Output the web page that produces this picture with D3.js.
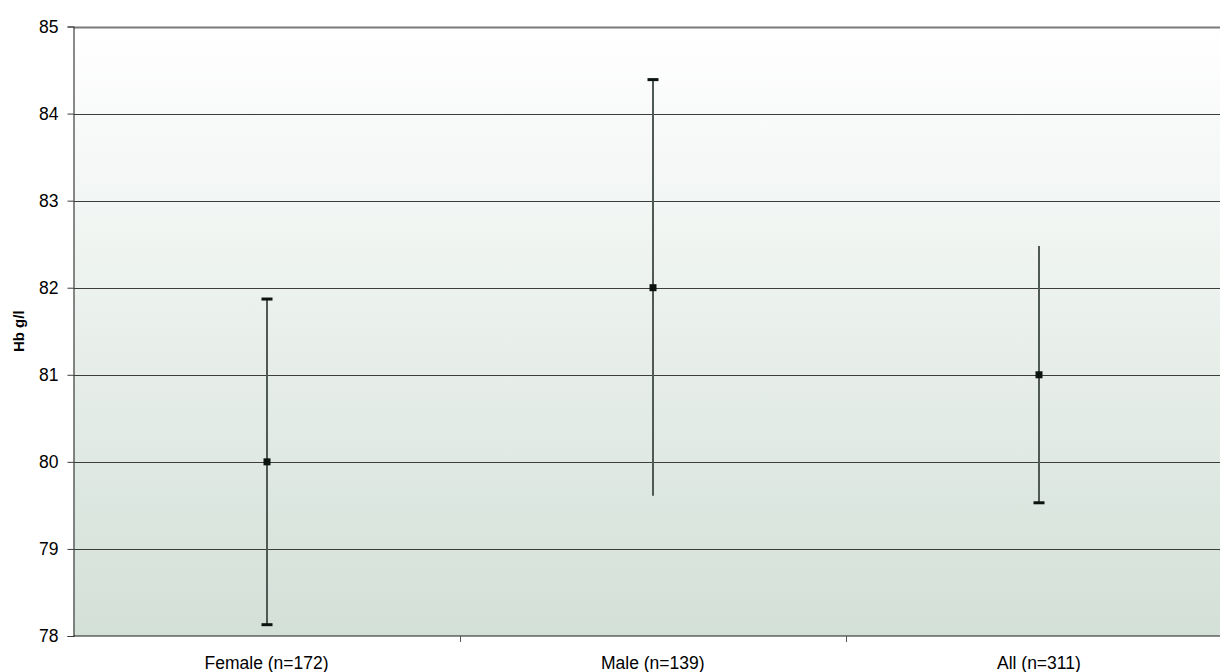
<!DOCTYPE html>
<html>
<head>
<meta charset="utf-8">
<script src="https://cdn.jsdelivr.net/npm/d3@7/dist/d3.min.js"></script>
<style>
  html, body { margin: 0; padding: 0; background: #ffffff; overflow: hidden; }
  svg { display: block; overflow: hidden; font-family: "Liberation Sans", Arial, sans-serif; }
</style>
</head>
<body>
<svg id="chart" width="1220" height="672"></svg>
<script>
// Mean haemoglobin with error bars per group
const categories = ["Female (n=172)", "Male (n=139)", "All (n=311)"];
const means = [80, 82, 81];
const upperErr = [1.87, 2.39, 1.48];
const lowerErr = [1.87, 2.39, 1.47];
// Which end caps are drawn for each group
const showUpperCap = [true, true, false];
const showLowerCap = [true, false, true];
const yTicks = [78, 79, 80, 81, 82, 83, 84, 85];

const svg = d3.select("#chart");
const margin = { left: 73.5, top: 26.5, right: -12, bottom: 36 };
const W = 1220, H = 672;
const x0 = margin.left, x1 = W - margin.right;
const y0 = H - margin.bottom, y1 = margin.top;

const x = d3.scaleBand().domain(categories).range([x0, x1]).paddingInner(0).paddingOuter(0);
const y = d3.scaleLinear().domain([78, 85]).range([y0, y1]);

// Plot-area background gradient
const defs = svg.append("defs");
const grad = defs.append("linearGradient").attr("id", "bg").attr("x1", 0).attr("y1", 0).attr("x2", 0).attr("y2", 1);
grad.append("stop").attr("offset", "0%").attr("stop-color", "#ffffff");
grad.append("stop").attr("offset", "100%").attr("stop-color", "#d3e0d8");
svg.append("rect").attr("x", x0).attr("y", y1).attr("width", x1 - x0).attr("height", y0 - y1).attr("fill", "url(#bg)");

// Horizontal gridlines
svg.append("g").selectAll("line").data(yTicks.filter(d => d !== 78)).join("line")
  .attr("x1", x0).attr("x2", x1)
  .attr("y1", d => Math.round(y(d)) + 0.5).attr("y2", d => Math.round(y(d)) + 0.5)
  .attr("stroke", d => d === 85 ? "#7a7a7a" : "#3c3c3c")
  .attr("stroke-width", d => d === 85 ? 2 : 1.2);

// Y axis
const yAxis = d3.axisLeft(y).tickValues(yTicks).tickSize(6).tickPadding(9).tickFormat(d3.format("d"));
const gy = svg.append("g").attr("transform", `translate(${x0},0)`).call(yAxis);
gy.select(".domain").attr("stroke", "#3c3c3c").attr("stroke-width", 1.2);
gy.selectAll(".tick line").attr("stroke", "#3c3c3c");
gy.selectAll(".tick text").attr("font-size", 17.5).attr("fill", "#000").attr("font-family", "Liberation Sans, Arial, sans-serif");

// X axis with ticks on category boundaries
const gx = svg.append("g").attr("transform", `translate(0,${y0})`);
gx.append("line").attr("x1", x0).attr("x2", x1).attr("y1", 0).attr("y2", 0).attr("stroke", "#1a1a1a").attr("stroke-width", 1.2);
gx.selectAll(".bt").data(categories.slice(1)).join("line").attr("class", "bt")
  .attr("x1", d => Math.round(x(d)) + 0.5).attr("x2", d => Math.round(x(d)) + 0.5)
  .attr("y1", 0).attr("y2", 6).attr("stroke", "#555").attr("stroke-width", 1);
gx.selectAll("text").data(categories).join("text")
  .attr("x", d => x(d) + x.bandwidth() / 2).attr("y", 32.5)
  .attr("text-anchor", "middle").attr("font-size", 17.5).attr("fill", "#000")
  .text(d => d);

// Y axis title
svg.append("text")
  .attr("transform", `translate(24,${(y0 + y1) / 2}) rotate(-90)`)
  .attr("text-anchor", "middle").attr("font-size", 15).attr("font-weight", "bold")
  .text("Hb g/l");

// Error bars
const cx = d => Math.round(x(d) + x.bandwidth() / 2);
const eb = svg.append("g");
categories.forEach((c, i) => {
  const px = cx(c);
  const top = y(means[i] + upperErr[i]);
  const bot = y(means[i] - lowerErr[i]);
  eb.append("line").attr("x1", px).attr("x2", px).attr("y1", top).attr("y2", bot)
    .attr("stroke", "#505a55").attr("stroke-width", 2);
  if (showUpperCap[i]) {
    eb.append("rect").attr("x", px - 5.5).attr("y", top - 1.5).attr("width", 11).attr("height", 3).attr("fill", "#0b1410");
  }
  if (showLowerCap[i]) {
    eb.append("rect").attr("x", px - 5.5).attr("y", bot - 1.5).attr("width", 11).attr("height", 3).attr("fill", "#0b1410");
  }
});

// Mean markers
svg.append("g").selectAll("rect").data(categories).join("rect")
  .attr("x", d => cx(d) - 3.5).attr("y", (d, i) => y(means[i]) - 3.5)
  .attr("width", 7).attr("height", 7).attr("fill", "#0b1410");
</script>
</body>
</html>
